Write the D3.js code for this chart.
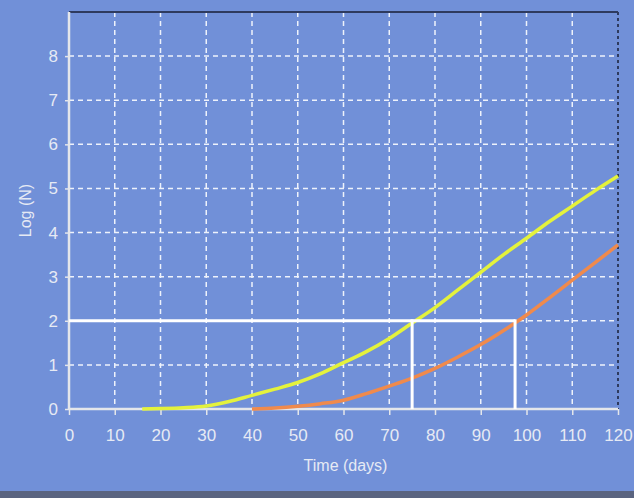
<!DOCTYPE html>
<html>
<head>
<meta charset="utf-8">
<script src="https://cdn.jsdelivr.net/npm/d3@7"></script>
<style>
  html, body { margin: 0; padding: 0; background: #7190d8; }
  svg { display: block; }
</style>
</head>
<body>
<div id="chart"></div>
<script>
const width = 634;
const height = 498;

// data
const days = [0, 10, 20, 30, 40, 50, 60, 70, 80, 90, 100, 110, 120];
const logTicks = [0, 1, 2, 3, 4, 5, 6, 7, 8];

const yellowDays = [16, 20, 25, 30, 35, 40, 45, 50, 55, 60, 65, 70, 75, 80, 85, 90, 95, 100, 105, 110, 115, 120];
const yellowLog = [0, 0.01, 0.03, 0.07, 0.17, 0.31, 0.45, 0.6, 0.8, 1.05, 1.3, 1.6, 1.95, 2.3, 2.7, 3.1, 3.5, 3.87, 4.25, 4.6, 4.95, 5.28];

const orangeDays = [40, 45, 50, 55, 60, 65, 70, 75, 80, 85, 90, 95, 100, 105, 110, 115, 120];
const orangeLog = [0, 0.02, 0.06, 0.12, 0.2, 0.35, 0.52, 0.7, 0.92, 1.18, 1.46, 1.78, 2.13, 2.52, 2.92, 3.32, 3.72];

const refLevel = 2;
const refDays = [75, 97.5];

const margin = { left: 69, right: 16, top: 12, bottom: 89 };
const font = "Liberation Sans, Arial, sans-serif";
const textColor = "#e6eaf4";

const svg = d3.select("#chart")
    .append("svg")
    .attr("width", width)
    .attr("height", height);

svg.append("rect")
    .attr("width", width)
    .attr("height", height)
    .attr("fill", "#7190d8");

// dark strip at the bottom
svg.append("rect")
    .attr("x", 0)
    .attr("y", 491)
    .attr("width", width)
    .attr("height", 7)
    .attr("fill", "#5a6480");

const x = d3.scaleLinear().domain([0, 120]).range([margin.left, width - margin.right]);
const y = d3.scaleLinear().domain([0, 9]).range([height - margin.bottom, margin.top]);

// grid
svg.append("g")
    .selectAll("line")
    .data(days.filter(d => d > 0 && d < 120))
    .enter()
    .append("line")
    .attr("x1", d => x(d))
    .attr("x2", d => x(d))
    .attr("y1", y(9))
    .attr("y2", y(0))
    .attr("stroke", "#eef2fb")
    .attr("stroke-width", 1.5)
    .attr("stroke-dasharray", "5,4");

svg.append("g")
    .selectAll("line")
    .data(logTicks.filter(d => d > 0))
    .enter()
    .append("line")
    .attr("x1", x(0))
    .attr("x2", x(120))
    .attr("y1", d => y(d))
    .attr("y2", d => y(d))
    .attr("stroke", "#eef2fb")
    .attr("stroke-width", 1.5)
    .attr("stroke-dasharray", "5,4");

// top frame and dotted right edge
svg.append("line")
    .attr("x1", x(0)).attr("x2", x(120))
    .attr("y1", y(9)).attr("y2", y(9))
    .attr("stroke", "#2e3a5e")
    .attr("stroke-width", 2);

svg.append("line")
    .attr("x1", x(120)).attr("x2", x(120))
    .attr("y1", y(9)).attr("y2", y(0))
    .attr("stroke", "#2e3a5e")
    .attr("stroke-width", 2)
    .attr("stroke-dasharray", "3,3");

// axes
const xAxis = svg.append("g")
    .attr("transform", `translate(0,${y(0)})`)
    .call(d3.axisBottom(x).tickValues(days).tickSize(6).tickPadding(14).tickFormat(d3.format("d")));

const yAxis = svg.append("g")
    .attr("transform", `translate(${x(0)},0)`)
    .call(d3.axisLeft(y).tickValues(logTicks).tickSize(4).tickPadding(7).tickFormat(d3.format("d")));

[xAxis, yAxis].forEach(a => {
    a.select(".domain").attr("stroke", "#e4e6ea").attr("stroke-width", 2.5);
    a.selectAll(".tick line").attr("stroke", "#e4e6ea").attr("stroke-width", 1.5);
    a.selectAll("text")
        .attr("fill", textColor)
        .style("font-family", font)
        .style("font-size", "17px");
});
yAxis.select(".domain").attr("d", `M0,${y(9)}V${y(0)}`);
xAxis.select(".domain").attr("d", `M${x(0)},0H${x(120)}`);

// curves
const line = d3.line()
    .x(d => x(d[0]))
    .y(d => y(d[1]))
    .curve(d3.curveMonotoneX);

svg.append("path")
    .datum(orangeDays.map((d, i) => [d, orangeLog[i]]))
    .attr("d", line)
    .attr("fill", "none")
    .attr("stroke", "#f08a4c")
    .attr("stroke-width", 3.5);

svg.append("path")
    .datum(yellowDays.map((d, i) => [d, yellowLog[i]]))
    .attr("d", line)
    .attr("fill", "none")
    .attr("stroke", "#e4f23c")
    .attr("stroke-width", 3.5);

// reference lines at log N = 2
svg.append("line")
    .attr("x1", x(0)).attr("x2", x(refDays[1]))
    .attr("y1", y(refLevel)).attr("y2", y(refLevel))
    .attr("stroke", "#ffffff")
    .attr("stroke-width", 3);

svg.append("g")
    .selectAll("line")
    .data(refDays)
    .enter()
    .append("line")
    .attr("x1", d => x(d)).attr("x2", d => x(d))
    .attr("y1", y(refLevel) - 1.5).attr("y2", y(0))
    .attr("stroke", "#ffffff")
    .attr("stroke-width", 3);

// axis titles
svg.append("text")
    .attr("x", x(60) + 2)
    .attr("y", 471)
    .attr("text-anchor", "middle")
    .attr("fill", textColor)
    .style("font-family", font)
    .style("font-size", "16px")
    .text("Time (days)");

svg.append("text")
    .attr("transform", `translate(31,${y(4.5)}) rotate(-90)`)
    .attr("text-anchor", "middle")
    .attr("fill", textColor)
    .style("font-family", font)
    .style("font-size", "16px")
    .text("Log (N)");
</script>
</body>
</html>
